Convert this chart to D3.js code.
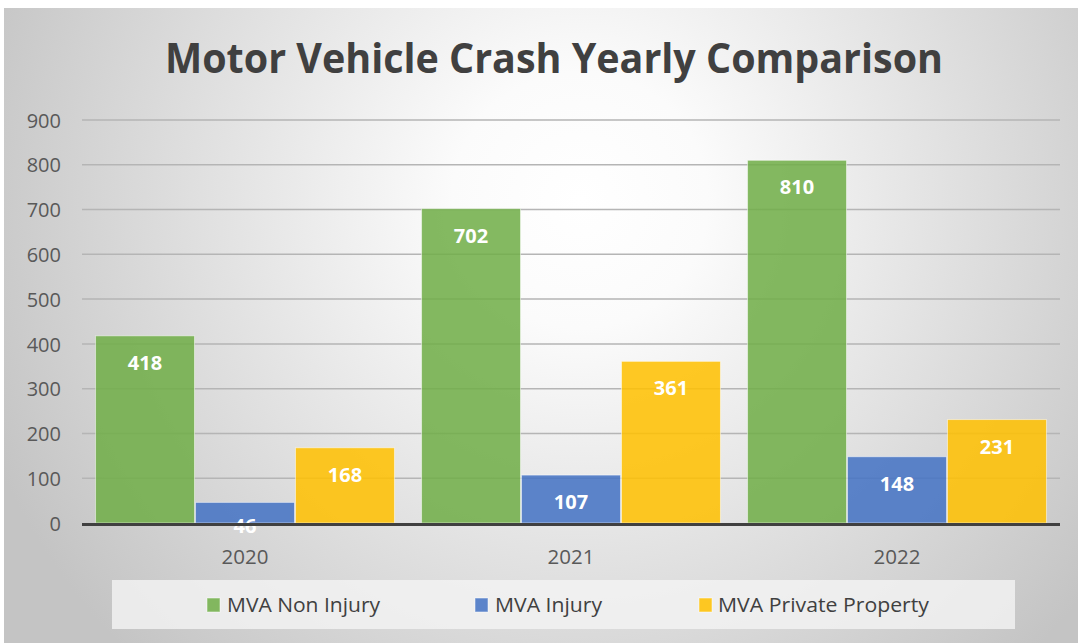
<!DOCTYPE html>
<html><head><meta charset="utf-8">
<script src="https://cdn.jsdelivr.net/npm/d3@7"></script>
<style>body{margin:0;background:#fff;}svg{display:block;font-family:"Open Sans",sans-serif;}</style>
</head><body>
<svg id="c" width="1078" height="643"></svg>
<script>
const categories = ["2020", "2021", "2022"];
const seriesNames = ["MVA Non Injury", "MVA Injury", "MVA Private Property"];
const nonInjury = [418, 702, 810];
const injury = [46, 107, 148];
const privateProperty = [168, 361, 231];
const yTicks = [0, 100, 200, 300, 400, 500, 600, 700, 800, 900];
const colors = ["#70ad47", "#4472c4", "#ffc000"];

const series = [nonInjury, injury, privateProperty];
const svg = d3.select("#c");
const defs = svg.append("defs");
const rg = defs.append("radialGradient").attr("id","bg")
  .attr("gradientUnits","userSpaceOnUse").attr("cx",580).attr("cy",200).attr("r",640);
rg.append("stop").attr("offset","0%").attr("stop-color","#ffffff");
rg.append("stop").attr("offset","20%").attr("stop-color","#fbfbfb");
rg.append("stop").attr("offset","100%").attr("stop-color","#c4c4c4");
svg.append("rect").attr("x",4).attr("y",8).attr("width",1074).attr("height",635).attr("fill","url(#bg)");

const x0 = d3.scaleBand().domain(categories).range([82,1060]).paddingInner(0.08).paddingOuter(0.04);
const x1 = d3.scaleBand().domain(d3.range(3)).range([0,x0.bandwidth()]).padding(0);
const y = d3.scaleLinear().domain([0,900]).range([523,120]);

// grid
svg.append("g").selectAll("line").data(yTicks.filter(d=>d>0)).join("line")
  .attr("x1",82).attr("x2",1060).attr("y1",d=>y(d)).attr("y2",d=>y(d))
  .attr("stroke","#b5b5b5").attr("stroke-width",1.5);

// y axis labels
const yAxis = d3.axisLeft(y).tickValues(yTicks).tickSize(0).tickPadding(0);
const ya = svg.append("g").attr("transform","translate(61,0)").call(yAxis);
ya.select(".domain").remove();
ya.selectAll("text").attr("fill","#595959").attr("font-size",20).attr("font-family","Open Sans").attr("dy","0.36em");

// bars
const groups = svg.append("g").selectAll("g").data(categories).join("g")
  .attr("transform",d=>`translate(${x0(d)},0)`);
groups.selectAll("rect").data((c,i)=>series.map((s,k)=>({k,v:s[i]}))).join("rect")
  .attr("x",d=>x1(d.k)+0.5).attr("width",x1.bandwidth()-1)
  .attr("y",d=>y(d.v)).attr("height",d=>y(0)-y(d.v))
  .attr("fill",d=>colors[d.k]).attr("fill-opacity",0.86)
  .attr("stroke","#ffffff").attr("stroke-opacity",0.5).attr("stroke-width",1);
groups.selectAll("text").data((c,i)=>series.map((s,k)=>({k,v:s[i]}))).join("text")
  .attr("x",d=>x1(d.k)+x1.bandwidth()/2)
  .attr("y",d=>Math.min(y(d.v)+34, 533))
  .attr("text-anchor","middle").attr("fill","#ffffff").attr("font-weight","bold")
  .attr("font-size",20).text(d=>d.v);

// baseline
svg.append("line").attr("x1",82).attr("x2",1060).attr("y1",y(0)+1.5).attr("y2",y(0)+1.5)
  .attr("stroke","#404040").attr("stroke-width",3);

// x axis labels
const xAxis = d3.axisBottom(x0).tickSize(0).tickPadding(0);
const xa = svg.append("g").attr("transform",`translate(0,564)`).call(xAxis);
xa.select(".domain").remove();
xa.selectAll("text").attr("fill","#595959").attr("font-size",20.5).attr("font-family","Open Sans").attr("dy","0");

// title
svg.append("text").attr("x",554).attr("y",73).attr("text-anchor","middle")
  .attr("fill","#404040").attr("font-weight","bold").attr("font-size",42)
  .attr("textLength",778).attr("lengthAdjust","spacingAndGlyphs")
  .text("Motor Vehicle Crash Yearly Comparison");

// legend
svg.append("rect").attr("x",112).attr("y",580).attr("width",903).attr("height",49).attr("fill","#f4f4f4").attr("fill-opacity",0.8);
const legX = [207, 475, 699];
const legW = [153, 107, 211];
const lg = svg.append("g").selectAll("g").data(seriesNames).join("g")
  .attr("transform",(d,i)=>`translate(${legX[i]},0)`);
lg.append("rect").attr("x",0).attr("y",598).attr("width",13).attr("height",14)
  .attr("fill",(d,i)=>colors[i]).attr("fill-opacity",0.86)
  .attr("stroke","#ffffff").attr("stroke-opacity",0.5);
lg.append("text").attr("x",(d,i)=>i===2?19:20).attr("y",612).attr("fill","#404040").attr("font-size",20)
  .attr("textLength",(d,i)=>legW[i]).attr("lengthAdjust","spacingAndGlyphs").text(d=>d);
</script>
</body></html>
